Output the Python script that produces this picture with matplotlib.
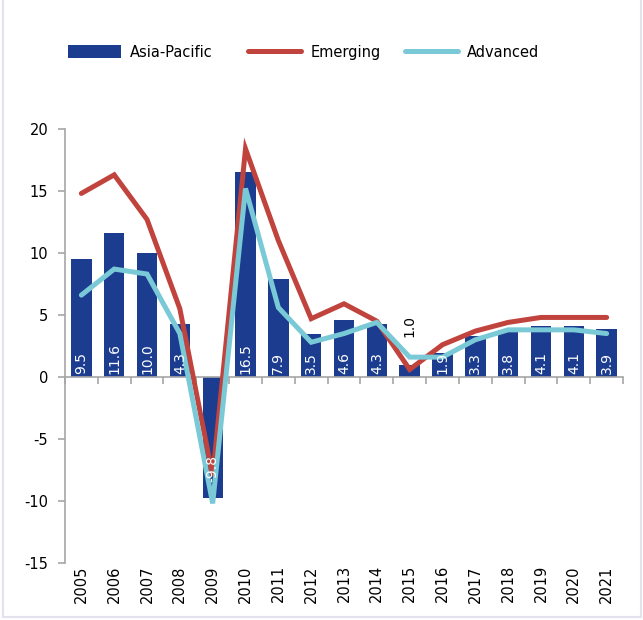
import matplotlib.pyplot as plt
from matplotlib.lines import Line2D
from matplotlib.patches import Patch

plt.rcParams["font.family"] = ["Liberation Sans Narrow", "DejaVu Sans"]

years = [str(y) for y in range(2005, 2022)]
asia_pacific = [9.5, 11.6, 10.0, 4.3, -9.8, 16.5, 7.9, 3.5, 4.6, 4.3, 1.0, 1.9, 3.3, 3.8, 4.1, 4.1, 3.9]
emerging = [14.8, 16.3, 12.7, 5.5, -8.0, 18.4, 11.0, 4.7, 5.9, 4.5, 0.6, 2.6, 3.7, 4.4, 4.8, 4.8, 4.8]
advanced = [6.6, 8.7, 8.3, 3.5, -10.2, 15.2, 5.6, 2.8, 3.5, 4.4, 1.6, 1.6, 3.0, 3.8, 3.8, 3.8, 3.5]

bar_color = "#1b3c8f"
red = "#c0443d"
cyan = "#79cad6"
axis_grey = "#a6a6a6"

fig = plt.figure(figsize=(6.43, 6.2), dpi=100)
ax = fig.add_axes([0.101, 0.092, 0.868, 0.700])

x = list(range(len(years)))
ax.bar(x, asia_pacific, width=0.62, color=bar_color, zorder=2)
ax.plot(x, emerging, color=red, lw=3.6, solid_capstyle="round", solid_joinstyle="miter", zorder=3)
ax.plot(x, advanced, color=cyan, lw=3.6, solid_capstyle="round", solid_joinstyle="miter", zorder=4)

# bar value labels
for xi, v in zip(x, asia_pacific):
    if v < 0:
        ax.text(xi, v + 1.3, f"{v:.1f}", rotation=90, ha="center", va="bottom",
                color="white", fontsize=10, zorder=5)
    elif v < 1.5:
        ax.text(xi, v + 2.2, f"{v:.1f}", rotation=90, ha="center", va="bottom",
                color="black", fontsize=10, zorder=5)
    else:
        ax.text(xi, 0.25, f"{v:.1f}", rotation=90, ha="center", va="bottom",
                color="white", fontsize=10, zorder=5)

ax.set_xlim(-0.5, len(years) - 0.5)
ax.set_ylim(-15, 20)
ax.set_yticks([-15, -10, -5, 0, 5, 10, 15, 20])
ax.set_yticklabels(["-15", "-10", "-5", "0", "5", "10", "15", "20"], fontsize=10.5)

ax.set_xticks([i - 0.5 for i in range(len(years) + 1)])
ax.set_xticklabels([])
ax.tick_params(axis="x", length=5, color=axis_grey, width=1.2, direction="out")
ax.tick_params(axis="y", length=5, color=axis_grey, width=1.2, direction="out", pad=7)

for xi, yr in zip(x, years):
    ax.text(xi, -0.005, yr, rotation=90, ha="center", va="top", fontsize=10.5,
            transform=ax.get_xaxis_transform())

ax.spines["bottom"].set_position(("data", 0))
ax.spines["bottom"].set_color(axis_grey)
ax.spines["bottom"].set_linewidth(1.2)
ax.spines["left"].set_color(axis_grey)
ax.spines["left"].set_linewidth(1.2)
ax.spines["top"].set_visible(False)
ax.spines["right"].set_visible(False)

# legend entries placed one by one to match the wide spacing
entries = [
    (Patch(facecolor=bar_color, edgecolor="none"), "Asia-Pacific", 0.106),
    (Line2D([0], [0], color=red, lw=3.6, solid_capstyle="round"), "Emerging", 0.386),
    (Line2D([0], [0], color=cyan, lw=3.6, solid_capstyle="round"), "Advanced", 0.630),
]
for handle, label, xpos in entries:
    fig.legend([handle], [label], loc="center left", bbox_to_anchor=(xpos, 0.916),
               frameon=False, fontsize=10.5, borderpad=0, borderaxespad=0,
               handlelength=3.6, handleheight=0.9, handletextpad=0.65)

# light frame around the picture
fig.add_artist(Line2D([0.005, 0.005], [0.005, 1.0], color="#e3e3ef", lw=1.5, transform=fig.transFigure))
fig.add_artist(Line2D([0.997, 0.997], [0.005, 1.0], color="#e3e3ef", lw=1.5, transform=fig.transFigure))
fig.add_artist(Line2D([0.005, 0.997], [0.005, 0.005], color="#e3e3ef", lw=1.5, transform=fig.transFigure))

fig.savefig("out.png", dpi=100)
